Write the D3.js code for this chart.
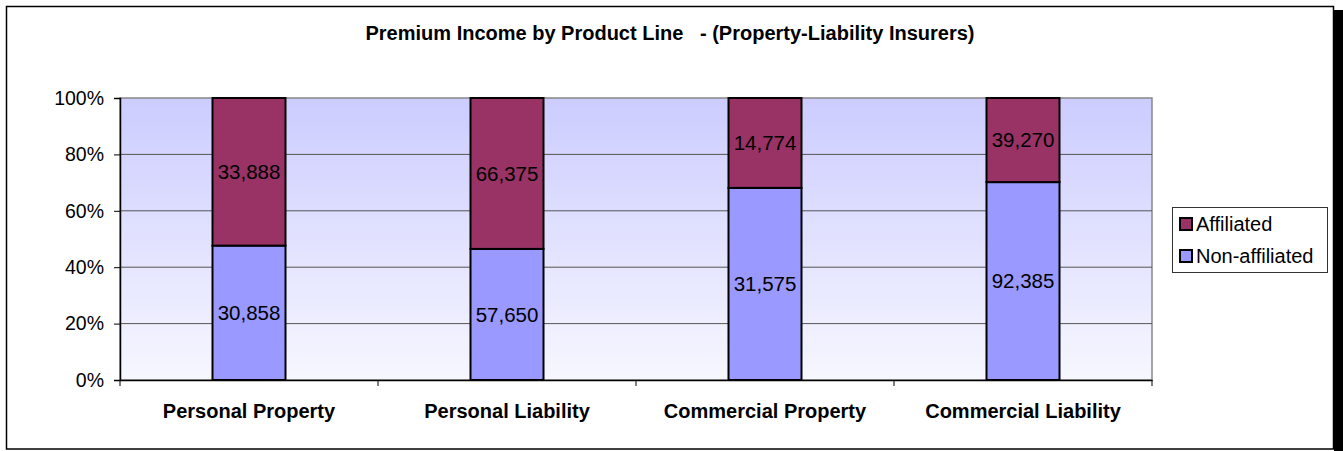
<!DOCTYPE html>
<html>
<head>
<meta charset="utf-8">
<script src="https://cdn.jsdelivr.net/npm/d3@7"></script>
<style>
  body { margin: 0; background: #fff; }
  text { font-family: "Liberation Sans", Arial, sans-serif; }
</style>
</head>
<body>
<svg id="chart"></svg>
<script>
/* Data */
const CATEGORIES = ['Personal Property', 'Personal Liability', 'Commercial Property', 'Commercial Liability'];
const NON_AFFILIATED = [30858, 57650, 31575, 92385];
const AFFILIATED = [33888, 66375, 14774, 39270];
const SERIES_NAMES = ['Non-affiliated', 'Affiliated'];
const Y_TICKS = [0, 0.2, 0.4, 0.6, 0.8, 1];

/* Dimensions */
const WIDTH = 1343;
const HEIGHT = 451;
const PLOT = { left: 120, right: 1152, top: 98, bottom: 380 };
const COLORS = { 'Non-affiliated': '#9999ff', 'Affiliated': '#993366' };

const svg = d3.select('#chart')
    .attr('width', WIDTH)
    .attr('height', HEIGHT);

// chart frame with shadow on the right
svg.append('rect')
    .attr('x', 1334).attr('y', 10).attr('width', 9).attr('height', HEIGHT - 10)
    .attr('fill', '#000');
svg.append('rect')
    .attr('x', 6.5).attr('y', 6.5).attr('width', 1327).attr('height', 442.5)
    .attr('fill', '#fff').attr('stroke', '#000').attr('stroke-width', 1.5);

const grad = svg.append('defs').append('linearGradient')
    .attr('id', 'bg').attr('x1', 0).attr('y1', 0).attr('x2', 0).attr('y2', 1);
grad.append('stop').attr('offset', '0%').attr('stop-color', '#ccccff');
grad.append('stop').attr('offset', '100%').attr('stop-color', '#f7f7ff');

const x = d3.scaleBand()
    .domain(CATEGORIES)
    .range([PLOT.left, PLOT.right])
    .paddingInner(0)
    .paddingOuter(0);

const y = d3.scaleLinear()
    .domain([0, 1])
    .range([PLOT.bottom, PLOT.top]);

// plot area
svg.append('rect')
    .attr('x', PLOT.left).attr('y', PLOT.top)
    .attr('width', PLOT.right - PLOT.left).attr('height', PLOT.bottom - PLOT.top)
    .attr('fill', 'url(#bg)')
    .attr('stroke', '#888').attr('stroke-width', 1.5);

// gridlines
svg.append('g').selectAll('line').data(Y_TICKS.slice(1, -1)).enter().append('line')
    .attr('x1', PLOT.left).attr('x2', PLOT.right)
    .attr('y1', d => y(d)).attr('y2', d => y(d))
    .attr('stroke', '#555').attr('stroke-width', 1);

// y axis
const yAxis = svg.append('g')
    .attr('transform', `translate(${PLOT.left},0)`)
    .call(d3.axisLeft(y).tickValues(Y_TICKS).tickFormat(d3.format('.0%')).tickSize(6).tickPadding(10));
yAxis.select('.domain').attr('stroke', '#000').attr('stroke-width', 1.5);
yAxis.selectAll('.tick line').attr('stroke', '#000');
yAxis.selectAll('.tick text')
    .attr('font-size', 19.5).attr('fill', '#000')
    .style('font-family', '"Liberation Sans", Arial, sans-serif');

// x axis
const xAxis = svg.append('g')
    .attr('transform', `translate(0,${PLOT.bottom})`)
    .call(d3.axisBottom(x).tickSize(0).tickPadding(24));
xAxis.select('.domain').attr('stroke', '#000').attr('stroke-width', 1.5);
xAxis.selectAll('.tick text')
    .attr('font-size', 20).attr('font-weight', 'bold').attr('fill', '#000')
    .style('font-family', '"Liberation Sans", Arial, sans-serif');
// category separators
xAxis.selectAll('.sep').data(CATEGORIES.concat(['end'])).enter().append('line')
    .attr('x1', (d, i) => i < CATEGORIES.length ? x(d) : x.range()[1])
    .attr('x2', (d, i) => i < CATEGORIES.length ? x(d) : x.range()[1])
    .attr('y1', 0).attr('y2', 6)
    .attr('stroke', '#000').attr('stroke-width', 1);

// stacked 100% data
const rows = CATEGORIES.map((c, i) => {
    const total = NON_AFFILIATED[i] + AFFILIATED[i];
    return { category: c, 'Non-affiliated': NON_AFFILIATED[i] / total, 'Affiliated': AFFILIATED[i] / total,
             raw: { 'Non-affiliated': NON_AFFILIATED[i], 'Affiliated': AFFILIATED[i] } };
});
const stack = d3.stack().keys(SERIES_NAMES)(rows);

const BAR_WIDTH = 73;
const fmt = d3.format(',');

const layers = svg.append('g').selectAll('g').data(stack).enter().append('g')
    .attr('fill', d => COLORS[d.key]);

layers.selectAll('rect').data(d => d).enter().append('rect')
    .attr('x', d => x(d.data.category) + (x.bandwidth() - BAR_WIDTH) / 2)
    .attr('width', BAR_WIDTH)
    .attr('y', d => y(d[1]))
    .attr('height', d => y(d[0]) - y(d[1]))
    .attr('stroke', '#000').attr('stroke-width', 2);

layers.each(function (layer) {
    d3.select(this).selectAll('text').data(layer).enter().append('text')
        .attr('x', d => x(d.data.category) + x.bandwidth() / 2)
        .attr('y', d => (y(d[0]) + y(d[1])) / 2)
        .attr('dy', '0.35em')
        .attr('text-anchor', 'middle')
        .attr('font-size', 20.5)
        .attr('fill', '#000')
        .text(d => fmt(d.data.raw[layer.key]));
});

// title
svg.append('text')
    .attr('x', 670).attr('y', 40)
    .attr('text-anchor', 'middle')
    .attr('font-size', 20).attr('font-weight', 'bold')
    .style('white-space', 'pre')
    .text('Premium Income by Product Line   - (Property-Liability Insurers)');

// legend
const legend = svg.append('g').attr('transform', 'translate(1172,207)');
legend.append('rect')
    .attr('x', 0.5).attr('y', 0.5).attr('width', 155).attr('height', 65)
    .attr('fill', '#fff').attr('stroke', '#333').attr('stroke-width', 1);
const items = legend.selectAll('.item').data(SERIES_NAMES.slice().reverse()).enter().append('g')
    .attr('transform', (d, i) => `translate(8,${17 + i * 32})`);
items.append('rect')
    .attr('x', 0).attr('y', -6).attr('width', 12).attr('height', 12)
    .attr('fill', d => COLORS[d]).attr('stroke', '#000').attr('stroke-width', 2);
items.append('text')
    .attr('x', 16).attr('y', 0).attr('dy', '0.35em')
    .attr('font-size', 20).attr('fill', '#000')
    .text(d => d);
</script>
</body>
</html>
